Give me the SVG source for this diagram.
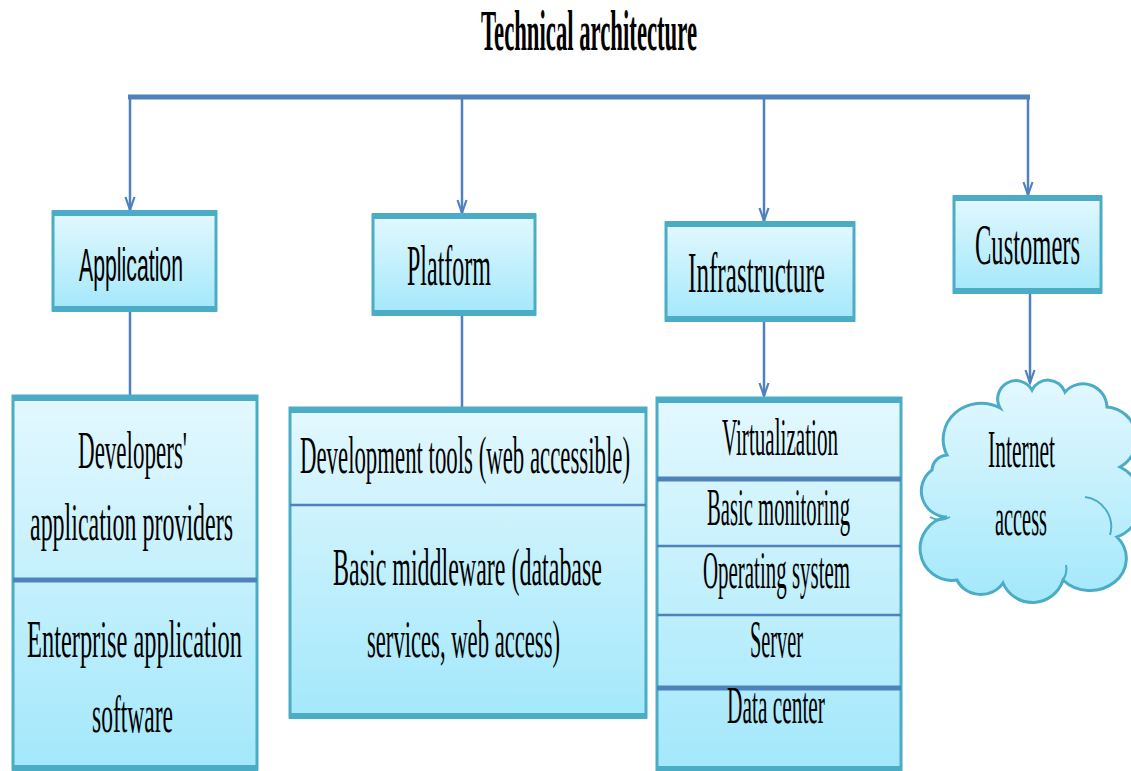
<svg xmlns="http://www.w3.org/2000/svg" width="1131" height="771" viewBox="0 0 1131 771">
<defs>
<linearGradient id="g" x1="0" y1="0" x2="0" y2="1">
<stop offset="0" stop-color="#e3f8fe"/>
<stop offset="1" stop-color="#a3e8fb"/>
</linearGradient>
<marker id="arr" markerUnits="userSpaceOnUse" markerWidth="20" markerHeight="20" refX="0" refY="0" orient="auto" overflow="visible">
<path d="M-13,-4.5 L0,0 L-13,4.5" fill="none" stroke="#4f81bd" stroke-width="2.2"/>
</marker>
<style>
.box{fill:url(#g);stroke:#4bacc6;stroke-width:3}
.edge{stroke:#4bacc6;stroke-width:6;fill:none}
.div{stroke:#4f81bd;stroke-width:2.5}
.divb{stroke:#4f81bd;stroke-width:5}
.t{font-family:"Liberation Serif","Times New Roman",serif;font-size:52px;fill:#000;text-anchor:middle}
.h{font-family:"Liberation Serif","Times New Roman",serif;font-size:56px;fill:#000;text-anchor:middle}
.s{font-family:"Liberation Sans",Arial,sans-serif;font-size:46px;fill:#000;text-anchor:middle}
.c{stroke:#4f81bd;stroke-width:2.5;fill:none}
</style>
</defs>
<rect width="1131" height="771" fill="#fff"/>

<text class="h" x="589" y="50" textLength="216" lengthAdjust="spacingAndGlyphs" font-weight="bold">Technical architecture</text>

<g id="connectors">
<line x1="128" y1="97" x2="1030" y2="97" stroke="#4f81bd" stroke-width="5"/>
<line class="c" x1="130" y1="97" x2="130" y2="210" marker-end="url(#arr)"/>
<line class="c" x1="462" y1="97" x2="462" y2="213" marker-end="url(#arr)"/>
<line class="c" x1="764" y1="97" x2="764" y2="221" marker-end="url(#arr)"/>
<line class="c" x1="1028" y1="97" x2="1028" y2="195" marker-end="url(#arr)"/>
<line class="c" x1="130" y1="312" x2="130" y2="395"/>
<line class="c" x1="462" y1="316" x2="462" y2="407"/>
<line class="c" x1="764" y1="297" x2="764" y2="396" marker-end="url(#arr)"/>
<line class="c" x1="1030" y1="273" x2="1030" y2="383" marker-end="url(#arr)"/>
</g>

<g id="application">
<rect class="box" x="53" y="212" width="163" height="98"/>
<path class="edge" d="M52,213 H217 M52,309 H217"/>
<text class="s" x="131" y="281" textLength="104" lengthAdjust="spacingAndGlyphs">Application</text>
</g>

<g id="platform">
<rect class="box" x="373" y="215" width="162" height="99"/>
<path class="edge" d="M372,216 H536 M372,313 H536"/>
<text class="h" x="449" y="285" textLength="84" lengthAdjust="spacingAndGlyphs">Platform</text>
</g>

<g id="infrastructure">
<rect class="box" x="666" y="223" width="188" height="97"/>
<path class="edge" d="M665,224 H855 M665,319 H855"/>
<text class="h" x="756.5" y="292" textLength="137" lengthAdjust="spacingAndGlyphs">Infrastructure</text>
</g>

<g id="customers">
<rect class="box" x="954" y="197" width="147" height="95"/>
<path class="edge" d="M953,198 H1102 M953,291 H1102"/>
<text class="h" x="1027.5" y="264" textLength="105" lengthAdjust="spacingAndGlyphs">Customers</text>
</g>

<g id="application-stack">
<rect class="box" x="13" y="396" width="244" height="373"/>
<path class="edge" d="M12,398 H258 M12,768 H258"/>
<line class="divb" x1="13" y1="580" x2="257" y2="580"/>
<text class="t" x="132.5" y="468" textLength="109" lengthAdjust="spacingAndGlyphs">Developers'</text>
<text class="t" x="131.5" y="540" textLength="203" lengthAdjust="spacingAndGlyphs">application providers</text>
<text class="t" x="134.5" y="657" textLength="215" lengthAdjust="spacingAndGlyphs">Enterprise application</text>
<text class="t" x="132.5" y="732" textLength="81" lengthAdjust="spacingAndGlyphs">software</text>
</g>

<g id="platform-stack">
<rect class="box" x="290" y="408" width="356" height="309"/>
<path class="edge" d="M289,410 H647 M289,716 H647"/>
<line class="div" x1="290" y1="505" x2="646" y2="505"/>
<text class="t" x="465" y="473" textLength="330" lengthAdjust="spacingAndGlyphs">Development tools (web accessible)</text>
<text class="t" x="467.5" y="585" textLength="269" lengthAdjust="spacingAndGlyphs">Basic middleware (database</text>
<text class="t" x="463.5" y="657" textLength="193" lengthAdjust="spacingAndGlyphs">services, web access)</text>
</g>

<g id="infrastructure-stack">
<rect class="box" x="657" y="398" width="244" height="372"/>
<path class="edge" d="M656,400 H902 M656,769 H902"/>
<line class="divb" x1="657" y1="479" x2="901" y2="479"/>
<line class="div" x1="657" y1="546" x2="901" y2="546"/>
<line class="div" x1="657" y1="615" x2="901" y2="615"/>
<line class="divb" x1="657" y1="688" x2="901" y2="688"/>
<text class="t" x="780" y="455" font-size="50" textLength="116" lengthAdjust="spacingAndGlyphs">Virtualization</text>
<text class="t" x="778.5" y="525" font-size="50" textLength="143" lengthAdjust="spacingAndGlyphs">Basic monitoring</text>
<text class="t" x="776.5" y="588" font-size="50" textLength="147" lengthAdjust="spacingAndGlyphs">Operating system</text>
<text class="t" x="776.5" y="657" font-size="50" textLength="53" lengthAdjust="spacingAndGlyphs">Server</text>
<text class="t" x="776" y="723" font-size="50" textLength="98" lengthAdjust="spacingAndGlyphs">Data center</text>
</g>

<g id="internet">
<path d="M947,455 A38 36 0 0 1 1000,408 A18 18 0 0 1 1032,390 A18 18 0 0 1 1065,392 A24 24 0 0 1 1107,407 A32 32 0 0 1 1120,467 A38 38 0 0 1 1117,537 A34 30 0 0 1 1063,580 A32 32 0 0 1 1003,583 A26 24 0 0 1 957,580 A30 30 0 0 1 947,517 A26 26 0 0 1 932,470 A16 16 0 0 1 947,455 Z" fill="url(#g)" stroke="#4bacc6" stroke-width="3"/>
<path d="M1085,497 A30 30 0 0 1 1110,535 M930,517 A20 20 0 0 0 950,517 M1063,580 A20 20 0 0 0 1066,565" fill="none" stroke="#4bacc6" stroke-width="2"/>
<text class="t" x="1021.5" y="467" textLength="67" lengthAdjust="spacingAndGlyphs">Internet</text>
<text class="t" x="1021" y="535" textLength="52" lengthAdjust="spacingAndGlyphs">access</text>
</g>
</svg>
